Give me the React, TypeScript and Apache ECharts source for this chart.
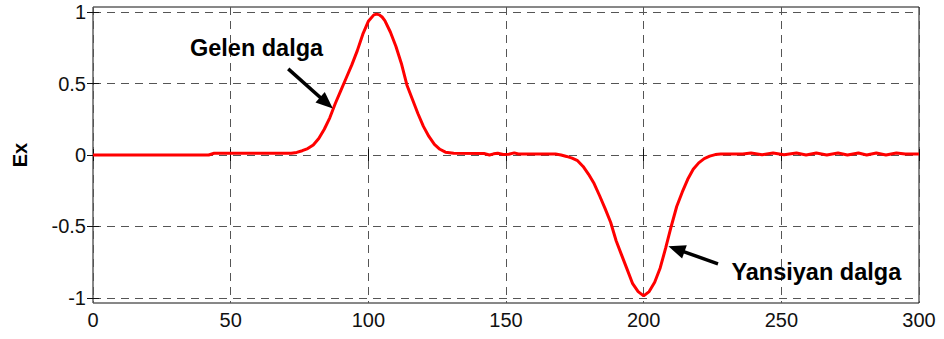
import React, { useEffect, useRef } from "react";
import * as echarts from "echarts";

// sampled curve (x positions, Ex values)
const xs: number[] = [
  0, 42, 44, 72, 74, 76, 78, 80, 82, 84, 86, 88, 90, 92, 94, 96, 98, 100, 102, 103, 104,
  105, 106, 108, 110, 112, 114, 116, 118, 120, 122, 124, 126, 128, 131, 142, 144, 145.5,
  147, 149, 151, 153, 154.5, 168, 170, 172, 174, 176, 178, 180, 182, 184, 186, 188, 190,
  192, 194, 196, 198, 200, 202, 204, 206, 208, 210, 212, 214, 216, 218, 220, 222, 224,
  226, 228, 236, 239, 243, 247, 251, 255.5, 259, 262.7, 266.5, 270.6, 274, 278, 281,
  284.5, 288, 291.8, 295, 300,
];
const ys: number[] = [
  0, 0, 0.012, 0.012, 0.018, 0.03, 0.045, 0.07, 0.115, 0.18, 0.26, 0.36, 0.45, 0.54, 0.63,
  0.73, 0.845, 0.935, 0.98, 0.985, 0.98, 0.965, 0.94, 0.86, 0.76, 0.64, 0.49, 0.39, 0.29,
  0.2, 0.13, 0.075, 0.04, 0.02, 0.012, 0.01, 0.0, 0.008, 0.012, 0.003, 0.005, 0.015, 0.007,
  0.007, 0.0, -0.01, -0.022, -0.04, -0.08, -0.135, -0.2, -0.285, -0.375, -0.47, -0.6, -0.7,
  -0.8, -0.9, -0.955, -0.985, -0.955, -0.89, -0.79, -0.65, -0.5, -0.36, -0.26, -0.17, -0.1,
  -0.055, -0.025, -0.008, 0.003, 0.007, 0.007, 0.014, 0.002, 0.014, 0.002, 0.014, 0.0,
  0.014, 0.0, 0.014, 0.0, 0.014, 0.0, 0.014, 0.0, 0.014, 0.007, 0.007,
];
const yTicks: number[] = [-1, -0.5, 0, 0.5, 1];

// annotations (data coordinates)
const incomingLabel = { text: "Gelen dalga", at: [59.4, 0.749] };
const incomingArrow = { from: [70.9, 0.602], to: [84.8, 0.364] };
const reflectedLabel = { text: "Yansiyan dalga", at: [262.7, -0.815] };
const reflectedArrow = { from: [227.0, -0.761], to: [211.9, -0.658] };

const FONT = "'Liberation Sans', Arial, Helvetica, sans-serif";

export default function App() {
  const ref = useRef<HTMLDivElement>(null);
  useEffect(() => {
    if (!ref.current) return;
    const chart = echarts.init(ref.current, null, { renderer: "svg" });
    const data = xs.map((x, i) => [x, ys[i]]);
    const grid = "#555";
    chart.setOption({
      animation: false,
      backgroundColor: "#fff",
      grid: {
        left: 93,
        right: 25,
        top: 7,
        bottom: 36,
        show: true,
        borderColor: "#111",
        borderWidth: 1,
        backgroundColor: "transparent",
        containLabel: false,
        outerBoundsMode: "none",
      },
      xAxis: [
        {
          type: "value",
          min: 0,
          max: 300,
          interval: 50,
          position: "bottom",
          axisLine: { show: false },
          axisTick: { show: true, inside: true, length: 6, lineStyle: { color: "#111" } },
          axisLabel: { color: "#111", fontSize: 20, fontFamily: FONT, margin: 7 },
          splitLine: { show: true, lineStyle: { color: grid, type: [8, 6], width: 1 } },
        },
        {
          type: "value",
          min: 0,
          max: 300,
          interval: 50,
          position: "top",
          axisLine: { show: false },
          axisTick: { show: true, inside: true, length: 6, lineStyle: { color: "#111" } },
          axisLabel: { show: false },
          splitLine: { show: false },
        },
      ],
      yAxis: [
        {
          type: "value",
          min: -1.035,
          max: 1.035,
          position: "left",
          name: "Ex",
          nameLocation: "middle",
          nameRotate: 90,
          nameGap: 63,
          nameTextStyle: { fontSize: 20, fontWeight: "bold", color: "#000", fontFamily: FONT },
          axisLine: { show: false },
          axisTick: { show: true, inside: true, length: 6, customValues: yTicks, lineStyle: { color: "#111" } },
          axisLabel: { color: "#111", fontSize: 20, fontFamily: FONT, margin: 7, customValues: yTicks },
          splitLine: { show: true, lineStyle: { color: grid, type: [8, 6], width: 1 } },
        },
        {
          type: "value",
          min: -1.035,
          max: 1.035,
          position: "right",
          axisLine: { show: false },
          axisTick: { show: true, inside: true, length: 6, customValues: yTicks, lineStyle: { color: "#111" } },
          axisLabel: { show: false, customValues: yTicks },
          splitLine: { show: false },
        },
      ],
      series: [
        {
          type: "line",
          data,
          showSymbol: false,
          symbol: "none",
          lineStyle: { color: "#ff0000", width: 3 },
          z: 3,
          markLine: {
            silent: true,
            symbol: ["none", "triangle"],
            symbolSize: [14, 17],
            label: { show: false },
            lineStyle: { color: "#000", width: 3.5, type: "solid" },
            itemStyle: { color: "#000" },
            data: [
              [{ coord: incomingArrow.from }, { coord: incomingArrow.to }],
              [{ coord: reflectedArrow.from }, { coord: reflectedArrow.to }],
            ],
          },
          markPoint: {
            silent: true,
            symbol: "circle",
            symbolSize: 0,
            label: {
              show: true,
              position: "inside",
              fontSize: 23.5,
              fontWeight: "bold",
              color: "#000",
              fontFamily: FONT,
            },
            data: [
              { coord: incomingLabel.at, label: { formatter: incomingLabel.text } },
              { coord: reflectedLabel.at, label: { formatter: reflectedLabel.text } },
            ],
          },
        },
      ],
    });
    return () => chart.dispose();
  }, []);
  return <div ref={ref} style={{ width: 944, height: 339, position: "absolute", left: 0, top: 0 }} />;
}
